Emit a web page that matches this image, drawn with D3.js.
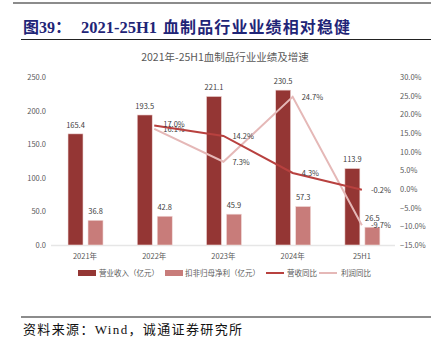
<!DOCTYPE html>
<html><head><meta charset="utf-8">
<script src="https://cdn.jsdelivr.net/npm/d3@7"></script>
<style>body{margin:0;background:#fff}svg{display:block}</style>
</head><body>
<script>
const categories = ["2021年","2022年","2023年","2024年","25H1"];
const revenue = [165.4,193.5,221.1,230.5,113.9];
const profit = [36.8,42.8,45.9,57.3,26.5];
const revGrowth = [null,17.0,14.2,4.3,-0.2];
const profGrowth = [null,16.1,7.3,24.7,-9.7];
const leftTicks = [0,50,100,150,200,250];
const rightTicks = [-15,-10,-5,0,5,10,15,20,25,30];
const seriesNames = ["营业收入（亿元）","扣非归母净利（亿元）","营收同比","利润同比"];

const W=431,H=344;
const svg=d3.select("body").append("svg").attr("width",W).attr("height",H);
const sans="'Noto Sans CJK SC','Noto Sans',sans-serif";
const serif="'Liberation Serif','DejaVu Serif','Noto Sans CJK SC',serif";
const cDark="#943634", cLight="#C87C7A", cRevLine="#B8413F", cProfLine="#E5B8B7", txt="#595959";

// header decorations
svg.append("rect").attr("x",13).attr("y",2).attr("width",W-13).attr("height",2).attr("fill","#8c8c8c");
const tg=svg.append("g").attr("font-family",serif).attr("font-weight","bold").attr("font-size",16).attr("fill","#1F2577");
tg.append("text").attr("x",23).attr("y",33).text("图39：");
tg.append("text").attr("x",81).attr("y",33).attr("textLength",76).attr("lengthAdjust","spacingAndGlyphs").text("2021-25H1");
tg.append("text").attr("x",163).attr("y",33).attr("textLength",187).attr("lengthAdjust","spacing").text("血制品行业业绩相对稳健");
svg.append("rect").attr("x",21).attr("y",39).attr("width",W-21).attr("height",1).attr("fill","#222");

svg.append("text").attr("x",225).attr("y",61).attr("text-anchor","middle").attr("font-family",sans)
  .attr("font-size",10.5).attr("fill",txt).text("2021年-25H1血制品行业业绩及增速");

const x=d3.scaleBand().domain(categories).range([50.4,396.5]).padding(0);
const yL=d3.scaleLinear().domain([0,250]).range([245,77]);
const yR=d3.scaleLinear().domain([-15,30]).range([245,77]);
const cx=c=>x(c)+x.bandwidth()/2;

// axes
const axL=svg.append("g").attr("transform","translate(46,0)")
  .call(d3.axisLeft(yL).tickValues(leftTicks).tickFormat(d3.format(".1f")).tickSize(0).tickPadding(0));
const axR=svg.append("g").attr("transform","translate(400,0)")
  .call(d3.axisRight(yR).tickValues(rightTicks).tickFormat(d=>d3.format(".1f")(d)+"%").tickSize(0).tickPadding(0));
const axX=svg.append("g").attr("transform","translate(0,245)")
  .call(d3.axisBottom(x).tickSize(0).tickPadding(9));
[axL,axR,axX].forEach(a=>{a.select(".domain").remove();
  a.selectAll("text").attr("font-family",sans).attr("font-size",7.5).attr("fill",txt);});
svg.append("line").attr("x1",51).attr("x2",395).attr("y1",245.5).attr("y2",245.5).attr("stroke","#e6e6e6").attr("stroke-width",1.5);

// bars
const bw=15;
svg.append("g").selectAll("rect").data(revenue).join("rect")
  .attr("x",(d,i)=>cx(categories[i])-17).attr("y",d=>yL(d)).attr("width",bw).attr("height",d=>yL(0)-yL(d))
  .attr("fill",cDark).attr("stroke","#f2dcdb").attr("stroke-width",0.6);
svg.append("g").selectAll("rect").data(profit).join("rect")
  .attr("x",(d,i)=>cx(categories[i])+3).attr("y",d=>yL(d)).attr("width",bw).attr("height",d=>yL(0)-yL(d))
  .attr("fill",cLight).attr("stroke","#f2dcdb").attr("stroke-width",0.6);
svg.append("g").selectAll("text").data(revenue).join("text")
  .attr("x",(d,i)=>cx(categories[i])-9.5).attr("y",d=>yL(d)-6).attr("text-anchor","middle")
  .attr("font-family",sans).attr("font-size",7.5).attr("fill","#404040").text(d=>d.toFixed(1));
svg.append("g").selectAll("text").data(profit).join("text")
  .attr("x",(d,i)=>cx(categories[i])+10.5).attr("y",d=>yL(d)-6).attr("text-anchor","middle")
  .attr("font-family",sans).attr("font-size",7.5).attr("fill","#404040").text(d=>d.toFixed(1));

// lines
function drawLine(vals,color,dy){
  const pts=vals.map((v,i)=>v==null?null:[cx(categories[i]),yR(v),v]).filter(p=>p);
  svg.append("path").attr("d",d3.line()(pts.map(p=>[p[0],p[1]]))).attr("fill","none")
    .attr("stroke",color).attr("stroke-width",2);
  svg.append("g").selectAll("text").data(pts).join("text")
    .attr("x",p=>p[0]+9).attr("y",(p,i)=>p[1]+3+dy(i))
    .attr("font-family",sans).attr("font-size",7.5).attr("fill","#404040").text(p=>p[2].toFixed(1)+"%");
}
drawLine(profGrowth,cProfLine,i=>i===0?0.5:0);
drawLine(revGrowth,cRevLine,i=>i===0?-1.5:0);

// legend
const lg=svg.append("g").attr("font-family",sans).attr("font-size",7.5).attr("fill",txt);
lg.append("rect").attr("x",78).attr("y",270).attr("width",18).attr("height",6).attr("fill",cDark);
lg.append("text").attr("x",99).attr("y",276).text(seriesNames[0]);
lg.append("rect").attr("x",165).attr("y",270).attr("width",18).attr("height",6).attr("fill",cLight);
lg.append("text").attr("x",185).attr("y",276).text(seriesNames[1]);
lg.append("line").attr("x1",266).attr("x2",284).attr("y1",273).attr("y2",273).attr("stroke",cRevLine).attr("stroke-width",2);
lg.append("text").attr("x",287).attr("y",276).text(seriesNames[2]);
lg.append("line").attr("x1",319).attr("x2",337).attr("y1",273).attr("y2",273).attr("stroke",cProfLine).attr("stroke-width",2);
lg.append("text").attr("x",341).attr("y",276).text(seriesNames[3]);

// footer
svg.append("rect").attr("x",21).attr("y",316).attr("width",W-21).attr("height",2).attr("fill","#8c8c8c");
svg.append("text").attr("x",23).attr("y",334).attr("font-family",serif).attr("font-size",13).attr("fill","#111")
  .attr("textLength",219).attr("lengthAdjust","spacing").text("资料来源：Wind，诚通证券研究所");
</script>
</body></html>
